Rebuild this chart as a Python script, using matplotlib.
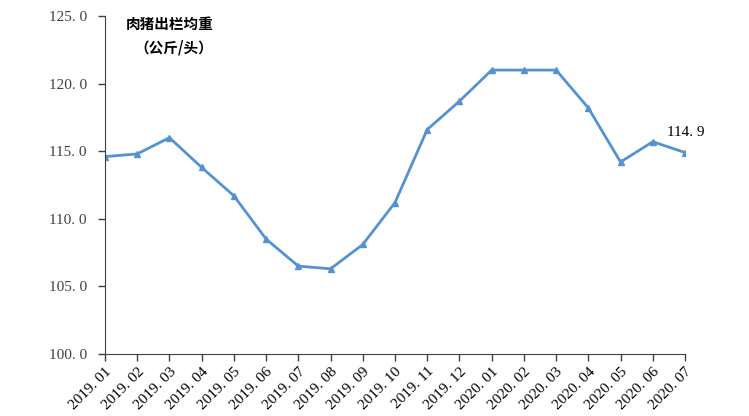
import matplotlib
matplotlib.use("Agg")
import matplotlib.pyplot as plt

months = ["2019. 01", "2019. 02", "2019. 03", "2019. 04", "2019. 05", "2019. 06",
          "2019. 07", "2019. 08", "2019. 09", "2019. 10", "2019. 11", "2019. 12",
          "2020. 01", "2020. 02", "2020. 03", "2020. 04", "2020. 05", "2020. 06",
          "2020. 07"]
weight = [114.6, 114.8, 116.0, 113.8, 111.7, 108.5, 106.5, 106.3, 108.1, 111.2,
          116.6, 118.7, 121.0, 121.0, 121.0, 118.2, 114.2, 115.7, 114.9]
yticks = [100, 105, 110, 115, 120, 125]

serif = ["Liberation Serif", "DejaVu Serif"]
cjk = ["Noto Sans CJK SC", "DejaVu Sans"]

fig = plt.figure(figsize=(7.49, 4.16), dpi=100)
ax = fig.add_axes([105 / 749, 62 / 416, 580 / 749, 338 / 416])

xs = list(range(len(months)))
ax.plot(xs, weight, color="#5593D0", linewidth=2, marker="^", markersize=4)

ax.set_xlim(0, len(months) - 1)
ax.set_ylim(100, 125)
ax.set_yticks(yticks)
ax.set_yticklabels([f"{v}. 0" for v in yticks], fontfamily=serif, fontsize=11,
                   color="#404040")
ax.set_xticks(xs)
ax.set_xticklabels(months, rotation=45, ha="right", rotation_mode="anchor",
                   fontfamily=serif, fontsize=11)
ax.tick_params(axis="both", direction="out", length=5, width=1, color="#404040")
ax.tick_params(axis="y", pad=8)
ax.tick_params(axis="x", pad=3)

for s in ("top", "right"):
    ax.spines[s].set_visible(False)
for s in ("left", "bottom"):
    ax.spines[s].set_color("#404040")

ax.text(0.65, 124.4, "肉猪出栏均重", family=cjk, fontsize=10.5,
        fontweight="bold", va="center")
ax.text(0.9, 122.7, "（公斤/头）", family=cjk, fontsize=10.5,
        fontweight="bold", va="center")

ax.annotate("114. 9", xy=(xs[-1], weight[-1]), xytext=(-13, 12),
            textcoords="offset points", family=serif, fontsize=11)

fig.savefig("out.png", dpi=100)
